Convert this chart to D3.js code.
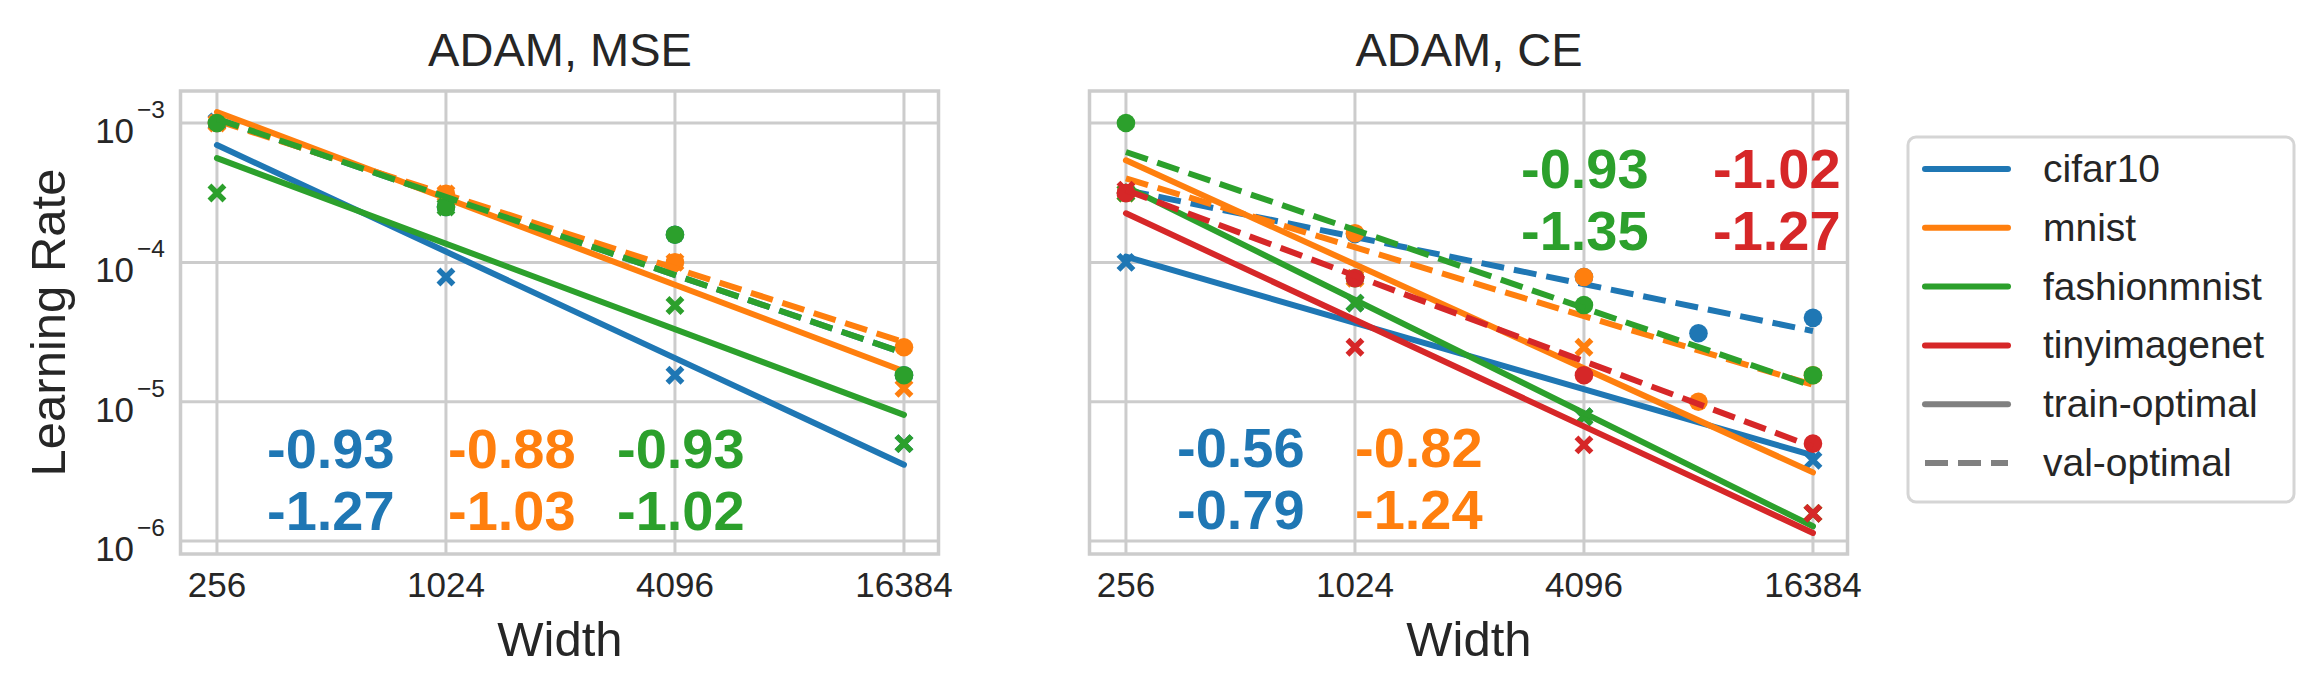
<!DOCTYPE html>
<html>
<head>
<meta charset="utf-8">
<script src="https://cdn.jsdelivr.net/npm/d3@7"></script>
<style>
body { margin: 0; background: #fff; }
text { font-family: "Liberation Sans", Arial, sans-serif; fill: #262626; }
</style>
</head>
<body>
<svg id="chart" width="2324" height="696"></svg>
<script>
var datasets = ["cifar10", "mnist", "fashionmnist", "tinyimagenet"];
var colors = ["#1f77b4", "#ff7f0e", "#2ca02c", "#d62728"];
var xTicks = [256, 1024, 4096, 16384];
var yTicks = [1e-3, 1e-4, 1e-5, 1e-6];
var yExp = ["\u22123", "\u22124", "\u22125", "\u22126"];

// ADAM, MSE (cifar10, mnist, fashionmnist)
var mseWidths = [256, 1024, 4096, 16384];
var mseTrain = [
  [1.02e-3, 7.85e-5, 1.55e-5, 5.0e-6],
  [1.0e-3, 3.1e-4, 1.0e-4, 1.25e-5],
  [3.15e-4, 2.5e-4, 4.9e-5, 5.0e-6]
];
var mseVal = [
  [1.0e-3, 2.5e-4, 1.58e-4, 1.55e-5],
  [1.0e-3, 3.1e-4, 1.0e-4, 2.46e-5],
  [1.0e-3, 2.5e-4, 1.58e-4, 1.55e-5]
];
var mseTrainSlope = [-1.27, -1.03, -1.02];
var mseValSlope = [-0.93, -0.88, -0.93];
var mseTrainAt256 = [6.95e-4, 1.2e-3, 5.6e-4];
var mseValAt256 = [1.07e-3, 1.04e-3, 1.07e-3];

// ADAM, CE (all four)
var ceWidths = [256, 1024, 4096, 8192, 16384];
var ceTrain = [
  [1.0e-4, 5.1e-5, 7.8e-6, null, 3.8e-6],
  [3.15e-4, 7.7e-5, 2.46e-5, null, 1.58e-6],
  [3.15e-4, 5.1e-5, 7.8e-6, null, 1.58e-6],
  [3.3e-4, 2.46e-5, 4.9e-6, null, 1.58e-6]
];
var ceVal = [
  [3.15e-4, 1.6e-4, 7.85e-5, 3.1e-5, 4.0e-5],
  [3.15e-4, 1.62e-4, 7.85e-5, 1.0e-5, 1.55e-5],
  [1.0e-3, 7.7e-5, 4.94e-5, null, 1.55e-5],
  [3.15e-4, 7.7e-5, 1.55e-5, null, 5.0e-6]
];
var ceTrainSlope = [-0.79, -1.24, -1.35, -1.27];
var ceValSlope = [-0.56, -0.82, -0.93, -1.02];
var ceTrainAt256 = [1.1e-4, 5.4e-4, 3.5e-4, 2.25e-4];
var ceValAt256 = [3.3e-4, 4.0e-4, 6.2e-4, 3.3e-4];

var svg = d3.select("#chart");
svg.append("rect").attr("width", 2324).attr("height", 696).attr("fill", "#fff");

var axTop = 91, axBottom = 554, axW = 758;
var y = d3.scaleLog().domain([Math.pow(10, -2.77), Math.pow(10, -6.093)]).range([axTop, axBottom]);

function drawPanel(left, title, widths, train, val, trainSlope, valSlope, trainAt, valAt, labelPos, showY) {
  var x = d3.scaleLog().base(2)
    .domain([Math.pow(2, 7.686), Math.pow(2, 14.306)])
    .range([left, left + axW]);
  var g = svg.append("g");

  // grid
  g.selectAll(".gx").data(xTicks).enter().append("line")
    .attr("x1", function(d) { return x(d); }).attr("x2", function(d) { return x(d); })
    .attr("y1", axTop).attr("y2", axBottom)
    .attr("stroke", "#cccccc").attr("stroke-width", 3);
  g.selectAll(".gy").data(yTicks).enter().append("line")
    .attr("x1", left).attr("x2", left + axW)
    .attr("y1", function(d) { return y(d); }).attr("y2", function(d) { return y(d); })
    .attr("stroke", "#cccccc").attr("stroke-width", 3);
  g.append("rect").attr("x", left - 0.5).attr("y", axTop).attr("width", axW).attr("height", axBottom - axTop)
    .attr("fill", "none").attr("stroke", "#cccccc").attr("stroke-width", 3.5);

  // tick labels
  g.selectAll(".tx").data(xTicks).enter().append("text")
    .attr("x", function(d) { return x(d); }).attr("y", 597)
    .attr("text-anchor", "middle").attr("font-size", 35)
    .text(function(d) { return d; });
  if (showY) {
    yTicks.forEach(function(t, i) {
      var tx = g.append("text").attr("x", 165).attr("y", y(t) + 20).attr("text-anchor", "end");
      tx.append("tspan").attr("font-size", 35).text("10");
      tx.append("tspan").attr("font-size", 24.5).attr("dx", 3).attr("dy", -25).text(yExp[i]);
    });
    g.append("text").attr("transform", "translate(65," + ((axTop + axBottom) / 2) + ") rotate(-90)")
      .attr("text-anchor", "middle").attr("font-size", 49).text("Learning Rate");
  }
  g.append("text").attr("x", left + axW / 2).attr("y", 656).attr("text-anchor", "middle")
    .attr("font-size", 49).text("Width");
  g.append("text").attr("x", left + axW / 2).attr("y", 66).attr("text-anchor", "middle")
    .attr("font-size", 47).text(title);

  var line = d3.line().x(function(d) { return x(d[0]); }).y(function(d) { return y(d[1]); });
  var ends = [256, 16384];

  train.forEach(function(series, k) {
    var c = colors[k];
    var tPts = widths.map(function(w, i) { return [w, series[i]]; }).filter(function(d) { return d[1] != null; });
    var vPts = widths.map(function(w, i) { return [w, val[k][i]]; }).filter(function(d) { return d[1] != null; });

    g.selectAll(null).data(tPts).enter().append("path")
      .attr("transform", function(d) { return "translate(" + x(d[0]) + "," + y(d[1]) + ")"; })
      .attr("d", "M-7.5,-7.5L7.5,7.5M-7.5,7.5L7.5,-7.5")
      .attr("stroke", c).attr("stroke-width", 5.5).attr("fill", "none");
    g.selectAll(null).data(vPts).enter().append("circle")
      .attr("cx", function(d) { return x(d[0]); }).attr("cy", function(d) { return y(d[1]); })
      .attr("r", 9.3).attr("fill", c);

    g.append("path")
      .datum(ends.map(function(w) { return [w, trainAt[k] * Math.pow(w / 256, trainSlope[k])]; }))
      .attr("d", line).attr("fill", "none").attr("stroke", c)
      .attr("stroke-width", 6).attr("stroke-linecap", "round");
    g.append("path")
      .datum(ends.map(function(w) { return [w, valAt[k] * Math.pow(w / 256, valSlope[k])]; }))
      .attr("d", line).attr("fill", "none").attr("stroke", c)
      .attr("stroke-width", 6).attr("stroke-dasharray", "23,10");
  });

  // slope annotations: val on first row, train on second
  train.forEach(function(series, k) {
    var p = labelPos[k];
    g.append("text").attr("x", left + p[0]).attr("y", p[1])
      .attr("font-size", 56).attr("font-weight", "bold").style("fill", colors[k])
      .text(valSlope[k].toFixed(2));
    g.append("text").attr("x", left + p[0]).attr("y", p[1] + 62)
      .attr("font-size", 56).attr("font-weight", "bold").style("fill", colors[k])
      .text(trainSlope[k].toFixed(2));
  });
}

drawPanel(181, "ADAM, MSE", mseWidths, mseTrain, mseVal, mseTrainSlope, mseValSlope,
  mseTrainAt256, mseValAt256, [[86, 468], [267, 468], [436, 468]], true);
drawPanel(1090, "ADAM, CE", ceWidths, ceTrain, ceVal, ceTrainSlope, ceValSlope,
  ceTrainAt256, ceValAt256, [[87, 467], [265, 467], [431, 188], [623, 188]], false);

// legend
var legendNames = datasets.concat(["train-optimal", "val-optimal"]);
var legendColors = colors.concat(["#808080", "#808080"]);
var lg = svg.append("g");
lg.append("rect").attr("x", 1908).attr("y", 137).attr("width", 386).attr("height", 365)
  .attr("rx", 8).attr("fill", "#fff").attr("stroke", "#d5d5d5").attr("stroke-width", 3);
legendNames.forEach(function(name, i) {
  var ly = 169 + i * 58.8;
  lg.append("line").attr("x1", 1925).attr("x2", 2008).attr("y1", ly).attr("y2", ly)
    .attr("stroke", legendColors[i]).attr("stroke-width", 6)
    .attr("stroke-linecap", name == "val-optimal" ? "butt" : "round")
    .attr("stroke-dasharray", name == "val-optimal" ? "23,10" : null);
  lg.append("text").attr("x", 2043).attr("y", ly + 13).attr("font-size", 39).text(name);
});
</script>
</body>
</html>
